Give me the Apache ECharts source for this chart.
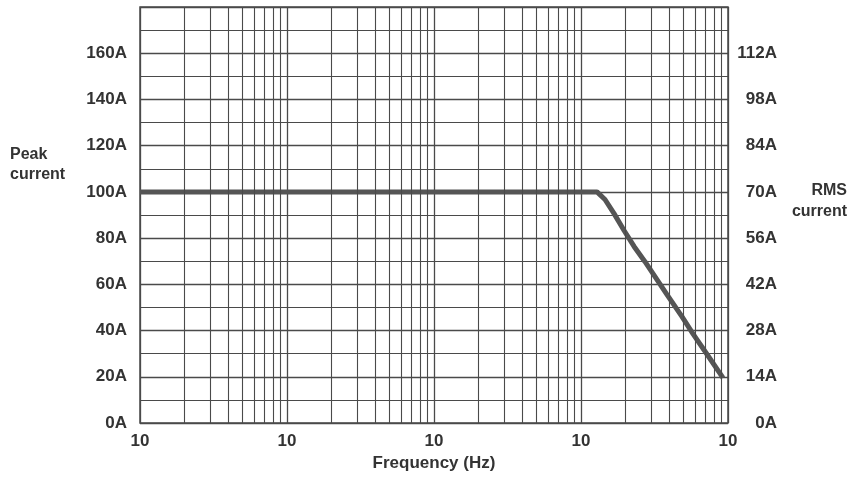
<!DOCTYPE html>
<html><head><meta charset="utf-8">
<script src="https://cdn.jsdelivr.net/npm/echarts@6/dist/echarts.min.js"></script>
<style>html,body{margin:0;padding:0;background:#fff}#c{width:853px;height:480px}</style>
</head><body><div id="c"></div>
<script>
// Data (frequency in Hz, peak current in A)
const freq = [10, 12850, 14560, 16750, 19630, 22960, 27250, 38460, 48640, 57810, 73110, 92470];
const peakCurrent = [100, 100, 96.7, 90.7, 83.3, 76.4, 69.8, 55.5, 46.0, 38.6, 29.1, 19.5];
const xTickLabels = ['10', '10', '10', '10', '10'];
const leftTicks = [0, 20, 40, 60, 80, 100, 120, 140, 160];
const rightTicks = [0, 14, 28, 42, 56, 70, 84, 98, 112];
const xMin = 10, xMax = 100000;

const gridColor = '#4a4a4a';
const txt = '#333';
const font = 'Liberation Sans, Arial, sans-serif';

// minor log grid lines (2..9 in each decade)
const minorLines = [];
for (let d = xMin; d < xMax; d *= 10) {
  for (let k = 2; k <= 9; k++) minorLines.push({ xAxis: d * k });
}

const chart = echarts.init(document.getElementById('c'));
chart.setOption({
  animation: false,
  backgroundColor: '#fff',
  grid: { left: 140, right: 125, top: 7, bottom: 57, show: true, borderColor: gridColor, borderWidth: 1.5 },
  xAxis: {
    type: 'log', logBase: 10, min: xMin, max: xMax,
    name: 'Frequency (Hz)', nameLocation: 'middle', nameGap: 27,
    nameTextStyle: { color: txt, fontSize: 17, fontWeight: 'bold', fontFamily: font },
    axisLine: { show: false }, axisTick: { show: false },
    axisLabel: {
      color: txt, fontSize: 17, fontWeight: 'bold', fontFamily: font, margin: 10,
      formatter: (v) => xTickLabels[Math.round(Math.log10(v) - Math.log10(xMin))] || ''
    },
    splitLine: { show: true, lineStyle: { color: gridColor, width: 1.3 } }
  },
  yAxis: [{
    type: 'value', min: 0, max: 180, interval: 20,
    axisLine: { show: false }, axisTick: { show: false },
    axisLabel: {
      color: txt, fontSize: 17, fontWeight: 'bold', fontFamily: font, margin: 13,
      formatter: (v) => leftTicks.includes(v) ? v + 'A' : ''
    },
    splitLine: { show: true, lineStyle: { color: gridColor, width: 1.3 } },
    minorTick: { show: false, splitNumber: 2 },
    minorSplitLine: { show: true, lineStyle: { color: gridColor, width: 1.1 } }
  }, {
    type: 'value', min: 0, max: 126, interval: 14, position: 'right',
    axisLine: { show: false }, axisTick: { show: false },
    axisLabel: {
      color: txt, fontSize: 17, fontWeight: 'bold', fontFamily: font, margin: 49, align: 'right',
      formatter: (v) => rightTicks.includes(v) ? v + 'A' : ''
    },
    splitLine: { show: false }
  }],
  graphic: [
    { type: 'text', left: 10, top: 145, style: { text: 'Peak\ncurrent', fill: txt, font: 'bold 16px ' + font, lineHeight: 20 } },
    { type: 'text', right: 6, top: 183, style: { text: 'RMS', fill: txt, font: 'bold 16px ' + font } },
    { type: 'text', right: 6, top: 204, style: { text: 'current', fill: txt, font: 'bold 16px ' + font } }
  ],
  series: [{
    type: 'line',
    data: freq.map((f, i) => [f, peakCurrent[i]]),
    showSymbol: false,
    lineStyle: { color: '#555', width: 5, join: 'round' },
    markLine: {
      silent: true, symbol: ['none', 'none'], label: { show: false },
      lineStyle: { color: gridColor, width: 1.1, type: 'solid' },
      data: minorLines
    },
    z: 3
  }]
});
</script></body></html>
